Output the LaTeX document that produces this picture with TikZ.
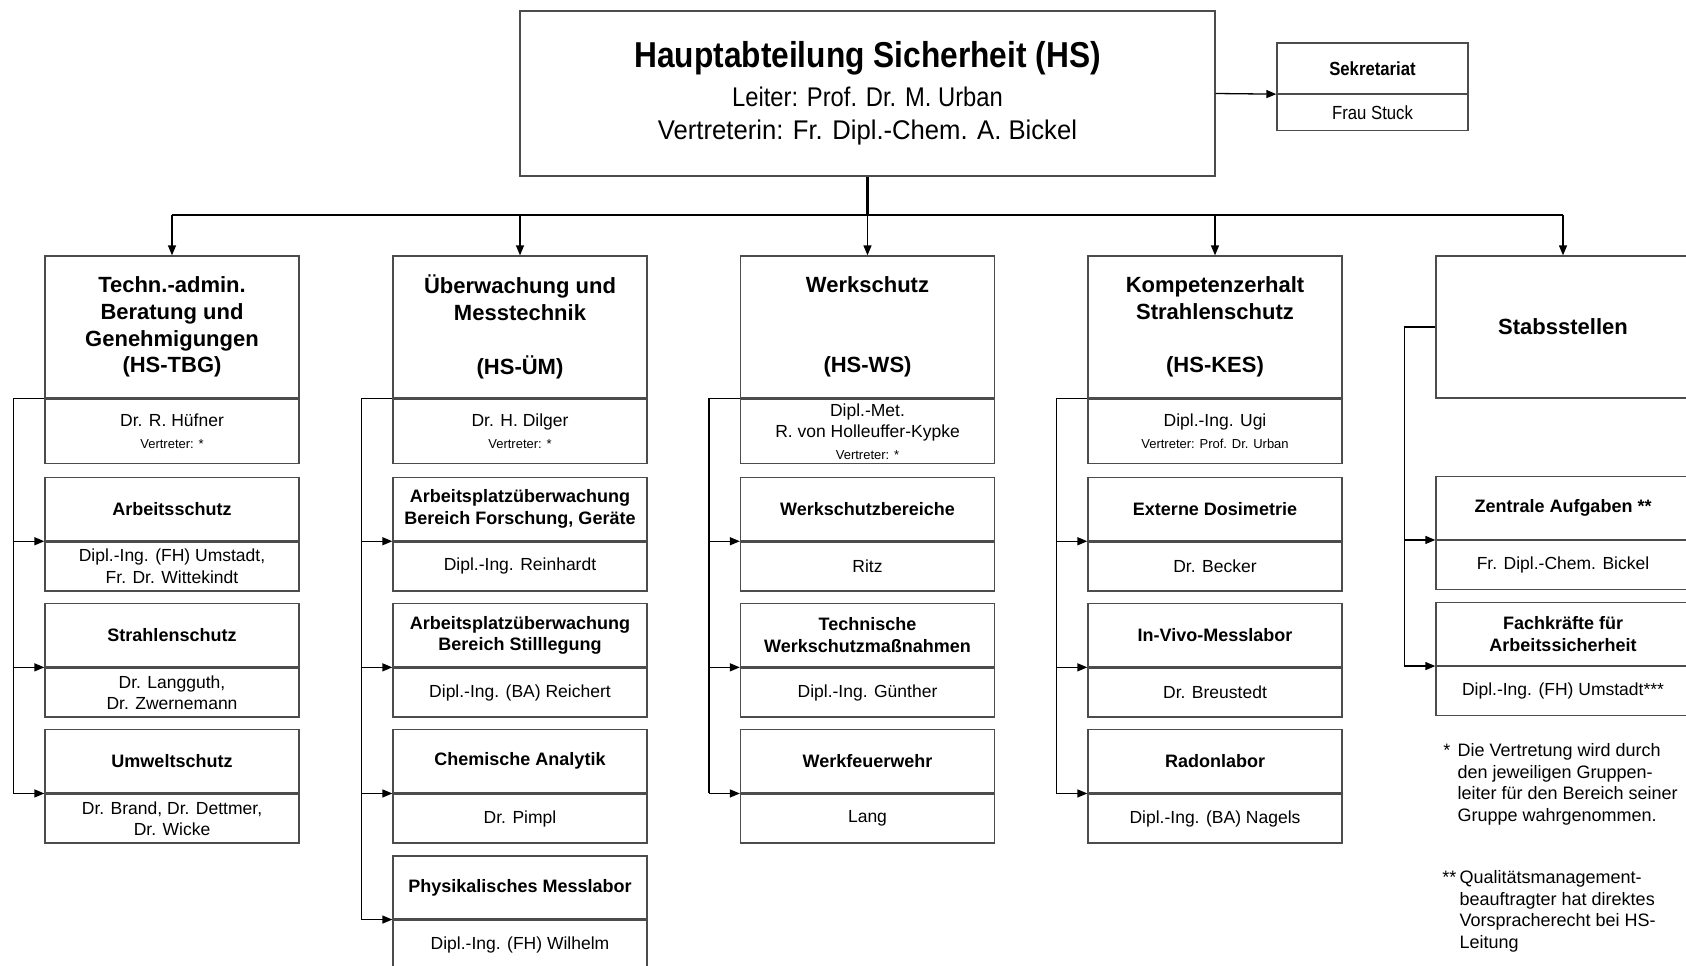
\documentclass[tikz,border=0pt]{standalone}
\usepackage{fontspec}
\setmainfont{Liberation Sans}
\newfontfamily\narrowfont[FakeStretch=0.88]{Liberation Sans}
\newfontfamily\semifont[FakeStretch=0.95]{Liberation Sans}
\usetikzlibrary{arrows.meta, positioning}
\newcommand{\vertr}[1]{{\fontsize{13}{15}\selectfont #1}}

\begin{document}
\begin{tikzpicture}[x=1pt, y=-1pt, line width=1.3pt,
    every node/.style={align=center, inner sep=0pt},
    box/.style={draw=black!70, minimum width=254pt},
    headbox/.style={box, minimum height=142pt, font=\fontsize{22}{26.8}\selectfont\bfseries},
    persbox/.style={box, minimum height=64pt, font=\fontsize{17.5}{21.5}\selectfont},
    subhead/.style={box, minimum height=63pt, font=\fontsize{18}{21.5}\selectfont\bfseries},
    subpers/.style={box, minimum height=49pt, font=\fontsize{17.5}{21.5}\selectfont},
    arr/.style={-{Triangle[length=10pt,width=8pt]}},
    fn/.style={align=left, anchor=north west, font=\fontsize{18}{21.5}\selectfont}]
    \clip (0,0) rectangle (1686,966);
    % Leitung und Sekretariat
    \node[box, minimum width=695pt, minimum height=165pt, font=\narrowfont\fontsize{27}{33}\selectfont] (hs) at (867.5,93.5)
        {{\fontsize{36}{38}\selectfont\bfseries Hauptabteilung Sicherheit (HS)}\\[6pt]Leiter: Prof. Dr. M. Urban\\{\semifont Vertreterin: Fr. Dipl.-Chem. A. Bickel}};
    \node[box, minimum width=191pt, minimum height=50.5pt, font=\narrowfont\fontsize{19}{22}\selectfont\bfseries] (sek) at (1372.5,68.25) {Sekretariat};
    \node[box, minimum width=191pt, minimum height=35.5pt, font=\narrowfont\fontsize{19}{22}\selectfont, below=0pt of sek] (sekp) {Frau Stuck};
    % HS-TBG
    \node[headbox] (tbg) at (172,327) {Techn.-admin.\\Beratung und\\Genehmigungen\\(HS-TBG)};
    \node[persbox, below=0pt of tbg] (tbgp) {Dr. R. Hüfner\\\vertr{Vertreter: *}};
    \node[subhead, below=13pt of tbgp] (as) {Arbeitsschutz};
    \node[subpers, below=0pt of as] (asp) {Dipl.-Ing. (FH) Umstadt,\\Fr. Dr. Wittekindt};
    \node[subhead, below=11.5pt of asp] (ss) {Strahlenschutz};
    \node[subpers, below=0pt of ss] (ssp) {Dr. Langguth,\\Dr. Zwernemann};
    \node[subhead, below=11.5pt of ssp] (us) {Umweltschutz};
    \node[subpers, below=0pt of us] (usp) {Dr. Brand, Dr. Dettmer,\\Dr. Wicke};
    % HS-ÜM
    \node[headbox] (uem) at (520,327) {Überwachung und\\Messtechnik\\~\\(HS-ÜM)};
    \node[persbox, below=0pt of uem] (uemp) {Dr. H. Dilger\\\vertr{Vertreter: *}};
    \node[subhead, below=13pt of uemp] (apf) {Arbeitsplatzüberwachung\\Bereich Forschung, Geräte};
    \node[subpers, below=0pt of apf] (apfp) {Dipl.-Ing. Reinhardt};
    \node[subhead, below=11.5pt of apfp] (aps) {Arbeitsplatzüberwachung\\Bereich Stilllegung};
    \node[subpers, below=0pt of aps] (apsp) {Dipl.-Ing. (BA) Reichert};
    \node[subhead, below=11.5pt of apsp] (ca) {Chemische Analytik};
    \node[subpers, below=0pt of ca] (cap) {Dr. Pimpl};
    \node[subhead, below=11.5pt of cap] (pml) {Physikalisches Messlabor};
    \node[subpers, below=0pt of pml] (pmlp) {Dipl.-Ing. (FH) Wilhelm};
    % HS-WS
    \node[headbox] (ws) at (867.5,327) {Werkschutz\\~\\~\\(HS-WS)};
    \node[persbox, below=0pt of ws] (wsp) {Dipl.-Met.\\R. von Holleuffer-Kypke\\\vertr{Vertreter: *}};
    \node[subhead, below=13pt of wsp] (wsb) {Werkschutzbereiche};
    \node[subpers, below=0pt of wsb] (wsbp) {Ritz};
    \node[subhead, below=11.5pt of wsbp] (twm) {Technische\\Werkschutzmaßnahmen};
    \node[subpers, below=0pt of twm] (twmp) {Dipl.-Ing. Günther};
    \node[subhead, below=11.5pt of twmp] (wf) {Werkfeuerwehr};
    \node[subpers, below=0pt of wf] (wfp) {Lang};
    % HS-KES
    \node[headbox] (kes) at (1215,327) {Kompetenzerhalt\\Strahlenschutz\\~\\(HS-KES)};
    \node[persbox, below=0pt of kes] (kesp) {Dipl.-Ing. Ugi\\\vertr{Vertreter: Prof. Dr. Urban}};
    \node[subhead, below=13pt of kesp] (ed) {Externe Dosimetrie};
    \node[subpers, below=0pt of ed] (edp) {Dr. Becker};
    \node[subhead, below=11.5pt of edp] (ivm) {In-Vivo-Messlabor};
    \node[subpers, below=0pt of ivm] (ivmp) {Dr. Breustedt};
    \node[subhead, below=11.5pt of ivmp] (rl) {Radonlabor};
    \node[subpers, below=0pt of rl] (rlp) {Dipl.-Ing. (BA) Nagels};
    % Stabsstellen
    \node[headbox] (stab) at (1563,327) {Stabsstellen};
    \node[subhead, below=77pt of stab] (za) {Zentrale Aufgaben **};
    \node[subpers, below=0pt of za] (zap) {Fr. Dipl.-Chem. Bickel};
    \node[subhead, below=11.5pt of zap] (fk) {Fachkräfte für\\Arbeitssicherheit};
    \node[subpers, below=0pt of fk] (fkp) {Dipl.-Ing. (FH) Umstadt***};
    % Fussnoten
    \node[fn] (fn1) at (1457,743) {Die Vertretung wird durch\\den jeweiligen Gruppen-\\leiter für den Bereich seiner\\Gruppe wahrgenommen.};
    \node[fn, anchor=north east] (fn1s) at ([xshift=-6pt]fn1.north west) {*};
    \node[fn] (fn2) at (1459,870) {Qualitätsmanagement-\\beauftragter hat direktes\\Vorspracherecht bei HS-\\Leitung};
    \node[fn, anchor=north east] (fn2s) at ([xshift=-2pt]fn2.north west) {**};
    % Verbindungen
    \coordinate (bus) at (867.5,215);
    \draw[line width=2.4pt] (hs.south) -- (bus);
    \draw (bus -| tbg.north) -- (bus -| stab.north);
    \draw[arr] (hs.east) -- (sek.south west);
    \draw[arr] (bus -| tbg.north) -- (tbg.north);
    \draw[arr] (bus -| uem.north) -- (uem.north);
    \draw[arr] (bus) -- (ws.north);
    \draw[arr] (bus -| kes.north) -- (kes.north);
    \draw[arr] (bus -| stab.north) -- (stab.north);
    \coordinate (t1) at ([xshift=-31pt]tbg.south west);
    \draw (tbg.south west) -- (t1) -- (t1 |- us.south west);
    \draw[arr] (t1 |- as.south west) -- (as.south west);
    \draw[arr] (t1 |- ss.south west) -- (ss.south west);
    \draw[arr] (t1 |- us.south west) -- (us.south west);
    \coordinate (t2) at ([xshift=-31pt]uem.south west);
    \draw (uem.south west) -- (t2) -- (t2 |- pml.south west);
    \draw[arr] (t2 |- apf.south west) -- (apf.south west);
    \draw[arr] (t2 |- aps.south west) -- (aps.south west);
    \draw[arr] (t2 |- ca.south west) -- (ca.south west);
    \draw[arr] (t2 |- pml.south west) -- (pml.south west);
    \coordinate (t3) at ([xshift=-31pt]ws.south west);
    \draw (ws.south west) -- (t3) -- (t3 |- wf.south west);
    \draw[arr] (t3 |- wsb.south west) -- (wsb.south west);
    \draw[arr] (t3 |- twm.south west) -- (twm.south west);
    \draw[arr] (t3 |- wf.south west) -- (wf.south west);
    \coordinate (t4) at ([xshift=-31pt]kes.south west);
    \draw (kes.south west) -- (t4) -- (t4 |- rl.south west);
    \draw[arr] (t4 |- ed.south west) -- (ed.south west);
    \draw[arr] (t4 |- ivm.south west) -- (ivm.south west);
    \draw[arr] (t4 |- rl.south west) -- (rl.south west);
    \coordinate (t5) at ([xshift=-31pt]stab.west);
    \draw (stab.west) -- (t5) -- (t5 |- fk.south west);
    \draw[arr] (t5 |- za.south west) -- (za.south west);
    \draw[arr] (t5 |- fk.south west) -- (fk.south west);
\end{tikzpicture}
\end{document}
